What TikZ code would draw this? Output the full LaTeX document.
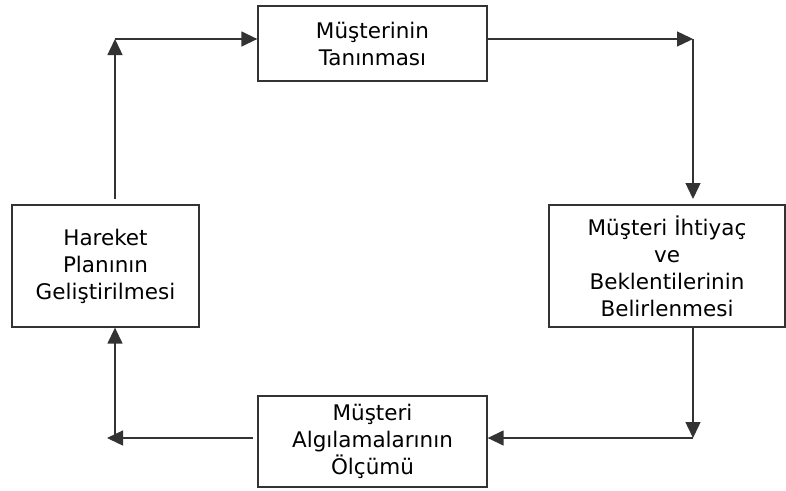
\documentclass[tikz,border=0pt]{standalone}
\usepackage{fontspec}
\setmainfont{DejaVu Sans}
\usetikzlibrary{arrows.meta}
\begin{document}
\begin{tikzpicture}[x=1pt,y=-1pt,
  box/.style={draw=black!80, line width=1.3pt, fill=white, inner sep=0pt, align=center,
    font=\fontsize{21.5}{27}\selectfont, text=black},
  arr/.style={draw=black!80, line width=1.4pt, -{Triangle[length=16pt,width=15pt]}}]
\useasboundingbox (0,0) rectangle (786,490);
\node[box, minimum width=229pt, minimum height=75pt] (T) at (372.5,43.5) {Müşterinin\\Tanınması};
\node[box, minimum width=236pt, minimum height=122pt] (R) at (667,266) {Müşteri İhtiyaç\\ve\\Beklentilerinin\\Belirlenmesi};
\node[box, minimum width=187pt, minimum height=122pt] (L) at (105.5,266) {Hareket\\Planının\\Geliştirilmesi};
\node[box, minimum width=229pt, minimum height=91pt] (B) at (372.5,441.5) {Müşteri\\Algılamalarının\\Ölçümü};
% corner coordinates
\coordinate (lt) at (115,199);
\coordinate (lc) at (115,39);
\coordinate (rc) at (693,39);
\coordinate (rt) at (693,199);
\coordinate (rb) at (693,438);
\coordinate (bl) at (253,438);
\coordinate (lb) at (115,438);
\coordinate (la) at (107,438);
% connectors
\draw[arr] (lt) -- (lc);
\draw[arr] (lc) -- (T.west |- lc);
\draw[arr] (T.east |- rc) -- (rc);
\draw[arr] (rc) -- (rt);
\draw[arr] (R.south -| rb) -- (rb);
\draw[arr] (rb) -- (B.east |- rb);
\draw[arr] (bl) -- (la);
\draw[arr] (lb) -- (L.south -| lb);
\end{tikzpicture}
\end{document}
